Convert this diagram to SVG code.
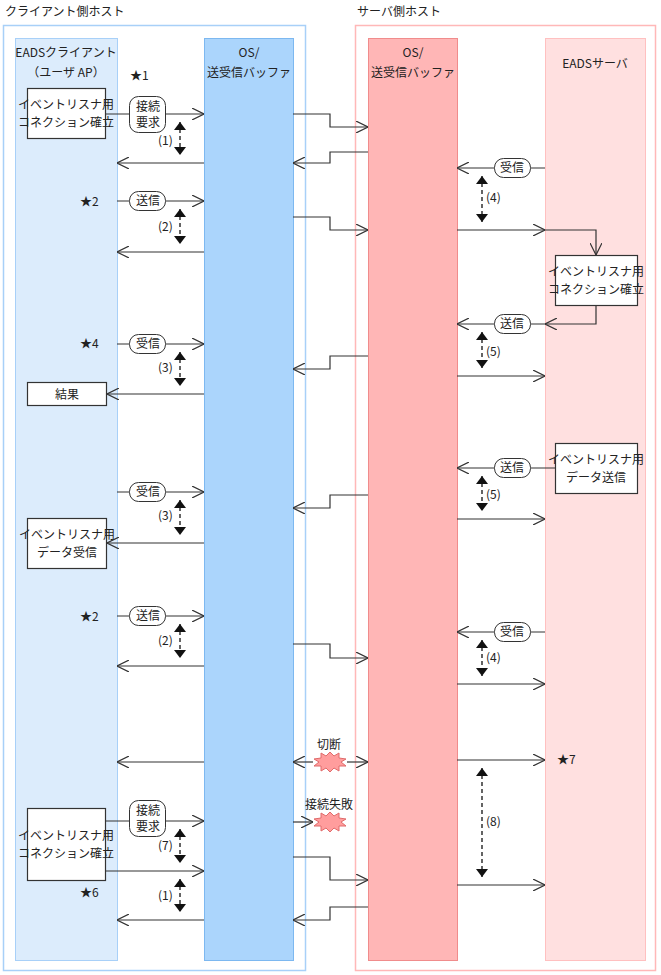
<svg xmlns="http://www.w3.org/2000/svg" width="661" height="975" viewBox="0 0 661 975">
<style>
text{font-family:"Noto Sans CJK JP","Liberation Sans",sans-serif;font-size:12px;fill:#222}
.c{text-anchor:middle}
.ln{fill:none;stroke:#333;stroke-width:1.2}
.ar{fill:none;stroke:#333;stroke-width:1.2;marker-end:url(#oa)}
.ds{fill:none;stroke:#111;stroke-width:1.3;stroke-dasharray:4,3;marker-start:url(#fa);marker-end:url(#fa)}
.box{fill:#fff;stroke:#333;stroke-width:1.2}
.pill{fill:#fff;stroke:#333;stroke-width:1}
.burst{fill:#ff9d9d;stroke:#e06a6a;stroke-width:1}
</style>
<defs>
<marker id="oa" viewBox="0 0 12 12" refX="12" refY="6" markerWidth="12" markerHeight="12" markerUnits="userSpaceOnUse" orient="auto-start-reverse"><path d="M0,0 L12,6 L0,12" fill="none" stroke="#333" stroke-width="1.2"/></marker>
<marker id="fa" viewBox="0 0 8 12" refX="8" refY="6" markerWidth="8" markerHeight="12" markerUnits="userSpaceOnUse" orient="auto-start-reverse"><path d="M0,0 L8,6 L0,12Z" fill="#111"/></marker>
<polygon id="star" class="burst" points="0,-10 4,-6 9,-9 9,-4 16,-3 11,0 16,4 9,4 9,9 4,6 0,10 -4,6 -9,9 -9,4 -16,4 -11,0 -16,-3 -9,-4 -9,-9 -4,-6"/>
</defs>

<g id="client-host">
<text x="5" y="16">クライアント側ホスト</text>
<rect x="3.5" y="25.5" width="302" height="945" fill="#fff" stroke="#a8d0f8" stroke-width="1.5"/>
</g>
<g id="client-lane">
<rect x="15.5" y="38.5" width="102" height="922" fill="#dcecfc" stroke="#a8d0f8"/>
<text class="c" x="66" y="57">EADSクライアント</text>
<text class="c" x="66" y="77">（ユーザ AP）</text>
</g>
<g id="client-os">
<rect x="204.5" y="38.5" width="89" height="922" fill="#abd5fc" stroke="#7db8f0"/>
<text class="c" x="249" y="57">OS/</text>
<text class="c" x="249" y="77">送受信バッファ</text>
</g>
<g id="server-host">
<text x="357" y="16">サーバ側ホスト</text>
<rect x="355.5" y="25.5" width="300" height="945" fill="#fff" stroke="#ffb8b8" stroke-width="1.5"/>
</g>
<g id="server-os">
<rect x="368.5" y="38.5" width="89" height="922" fill="#ffb6b6" stroke="#f08c8c"/>
<text class="c" x="413" y="57">OS/</text>
<text class="c" x="413" y="77">送受信バッファ</text>
</g>
<g id="server-lane">
<rect x="545.5" y="38.5" width="100" height="922" fill="#ffe0e0" stroke="#ffc0c0"/>
<text class="c" x="595" y="68">EADSサーバ</text>
</g>

<g id="connectors">
<!-- client rows -->
<line class="ar" x1="105" y1="114" x2="204" y2="114"/>
<line class="ar" x1="204" y1="163" x2="117" y2="163"/>
<line class="ds" x1="180" y1="122" x2="180" y2="155"/>
<line class="ar" x1="117" y1="201" x2="204" y2="201"/>
<line class="ar" x1="204" y1="252" x2="117" y2="252"/>
<line class="ds" x1="180" y1="209" x2="180" y2="244"/>
<line class="ar" x1="117" y1="344" x2="204" y2="344"/>
<line class="ar" x1="204" y1="394" x2="107" y2="394"/>
<line class="ds" x1="180" y1="352" x2="180" y2="386"/>
<line class="ar" x1="117" y1="492" x2="204" y2="492"/>
<line class="ar" x1="204" y1="543" x2="107" y2="543"/>
<line class="ds" x1="180" y1="500" x2="180" y2="535"/>
<line class="ar" x1="117" y1="616" x2="204" y2="616"/>
<line class="ar" x1="204" y1="666" x2="117" y2="666"/>
<line class="ds" x1="180" y1="624" x2="180" y2="658"/>
<line class="ar" x1="204" y1="762" x2="117" y2="762"/>
<line class="ar" x1="105" y1="821" x2="204" y2="821"/>
<line class="ar" x1="105" y1="871" x2="204" y2="871"/>
<line class="ds" x1="180" y1="829" x2="180" y2="863"/>
<line class="ar" x1="204" y1="920" x2="117" y2="920"/>
<line class="ds" x1="180" y1="879" x2="180" y2="912"/>
<!-- between OS -->
<path class="ar" d="M293,114 H330 V127 H368"/>
<path class="ar" d="M368,152 H330 V163 H293"/>
<path class="ar" d="M293,217 H330 V230 H368"/>
<path class="ar" d="M368,356 H330 V369 H293"/>
<path class="ar" d="M368,495 H330 V508 H293"/>
<path class="ar" d="M293,644 H330 V658 H368"/>
<line class="ar" x1="313" y1="762" x2="293" y2="762"/>
<line class="ar" x1="347" y1="762" x2="368" y2="762"/>
<line class="ar" x1="293" y1="822" x2="313" y2="822"/>
<path class="ar" d="M293,857 H330 V880 H368"/>
<path class="ar" d="M368,907 H330 V920 H293"/>
<!-- server rows -->
<line class="ar" x1="545" y1="168" x2="457" y2="168"/>
<line class="ds" x1="482" y1="176" x2="482" y2="222"/>
<path class="ar" d="M457,230 H545"/>
<path class="ar" d="M545,230 H596 V255"/>
<path class="ar" d="M596,305 V324 H545"/>
<line class="ar" x1="545" y1="324" x2="457" y2="324"/>
<line class="ds" x1="482" y1="332" x2="482" y2="368"/>
<line class="ar" x1="457" y1="376" x2="545" y2="376"/>
<line class="ar" x1="555" y1="468" x2="457" y2="468"/>
<line class="ds" x1="482" y1="476" x2="482" y2="511"/>
<line class="ar" x1="457" y1="519" x2="545" y2="519"/>
<line class="ar" x1="545" y1="632" x2="457" y2="632"/>
<line class="ds" x1="482" y1="640" x2="482" y2="676"/>
<line class="ar" x1="457" y1="684" x2="545" y2="684"/>
<line class="ar" x1="457" y1="760" x2="545" y2="760"/>
<line class="ds" x1="482" y1="768" x2="482" y2="877"/>
<line class="ar" x1="457" y1="885" x2="545" y2="885"/>
</g>

<g id="labels">
<text x="130" y="80">★1</text>
<text x="80" y="206">★2</text>
<text x="80" y="348">★4</text>
<text x="80" y="621">★2</text>
<text x="80" y="897">★6</text>
<text x="557" y="764">★7</text>
<text x="158" y="145">(1)</text>
<text x="158" y="231">(2)</text>
<text x="158" y="372">(3)</text>
<text x="158" y="520">(3)</text>
<text x="158" y="645">(2)</text>
<text x="158" y="850">(7)</text>
<text x="158" y="900">(1)</text>
<text x="486" y="202">(4)</text>
<text x="486" y="356">(5)</text>
<text x="486" y="499">(5)</text>
<text x="486" y="662">(4)</text>
<text x="486" y="826">(8)</text>
</g>

<g id="pills">
<rect class="pill" x="129.5" y="96.5" width="36" height="36" rx="9"/>
<text class="c" x="148" y="111">接続</text><text class="c" x="148" y="127">要求</text>
<rect class="pill" x="129.5" y="191.5" width="36" height="19" rx="9"/><text class="c" x="148" y="205">送信</text>
<rect class="pill" x="129.5" y="334.5" width="36" height="19" rx="9"/><text class="c" x="148" y="348">受信</text>
<rect class="pill" x="129.5" y="482.5" width="36" height="19" rx="9"/><text class="c" x="148" y="496">受信</text>
<rect class="pill" x="129.5" y="606.5" width="36" height="19" rx="9"/><text class="c" x="148" y="620">送信</text>
<rect class="pill" x="129.5" y="800.5" width="36" height="36" rx="9"/>
<text class="c" x="148" y="815">接続</text><text class="c" x="148" y="831">要求</text>
<rect class="pill" x="494.5" y="158.5" width="36" height="19" rx="9"/><text class="c" x="512" y="172">受信</text>
<rect class="pill" x="494.5" y="314.5" width="36" height="19" rx="9"/><text class="c" x="512" y="328">送信</text>
<rect class="pill" x="494.5" y="458.5" width="36" height="19" rx="9"/><text class="c" x="512" y="472">送信</text>
<rect class="pill" x="494.5" y="622.5" width="36" height="19" rx="9"/><text class="c" x="512" y="636">受信</text>
</g>

<g id="box-c1"><rect class="box" x="27.5" y="88.5" width="78" height="50"/><text class="c" x="66" y="109" font-size="11">イベントリスナ用</text><text class="c" x="66" y="127" font-size="11">コネクション確立</text></g>
<g id="box-result"><rect class="box" x="27.5" y="382.5" width="79" height="23"/><text class="c" x="67" y="399">結果</text></g>
<g id="box-c2"><rect class="box" x="27.5" y="518.5" width="79" height="50"/><text class="c" x="67" y="539" font-size="11">イベントリスナ用</text><text class="c" x="67" y="557" font-size="11">データ受信</text></g>
<g id="box-c3"><rect class="box" x="27.5" y="808.5" width="78" height="72"/><text class="c" x="66" y="840" font-size="11">イベントリスナ用</text><text class="c" x="66" y="858" font-size="11">コネクション確立</text></g>
<g id="box-s1"><rect class="box" x="555.5" y="255.5" width="82" height="50"/><text class="c" x="596" y="276" font-size="11">イベントリスナ用</text><text class="c" x="596" y="294" font-size="11">コネクション確立</text></g>
<g id="box-s2"><rect class="box" x="555.5" y="443.5" width="82" height="50"/><text class="c" x="596" y="464" font-size="11">イベントリスナ用</text><text class="c" x="596" y="482" font-size="11">データ送信</text></g>

<g id="burst-cut"><use href="#star" x="330" y="762"/><text class="c" x="329" y="749">切断</text></g>
<g id="burst-fail"><use href="#star" x="330" y="822"/><text class="c" x="329" y="809">接続失敗</text></g>
</svg>
